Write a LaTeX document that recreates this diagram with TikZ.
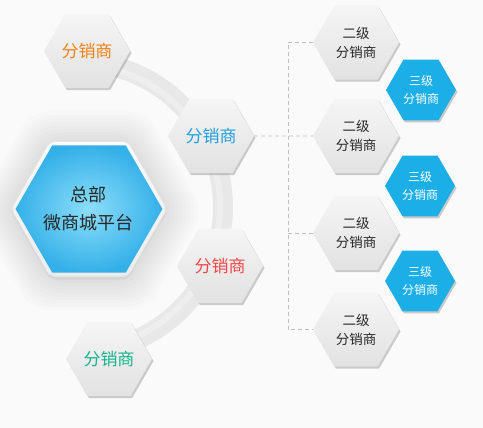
\documentclass[tikz,border=0pt]{standalone}
\usepackage{fontspec}
\newfontfamily\cjk{Noto Sans CJK SC}
\usetikzlibrary{shapes.geometric,shadows}
\definecolor{bg}{RGB}{250,250,250}
\definecolor{hextop}{RGB}{245,245,245}
\definecolor{hexbot}{RGB}{226,226,226}
\definecolor{arcgray}{RGB}{232,232,232}
\definecolor{mainlight}{RGB}{140,222,250}
\definecolor{maindark}{RGB}{52,176,232}
\definecolor{thirdblue}{RGB}{28,174,230}
\definecolor{txtorange}{RGB}{240,130,20}
\definecolor{txtblue}{RGB}{30,160,225}
\definecolor{txtred}{RGB}{240,70,70}
\definecolor{txtgreen}{RGB}{20,180,140}
\definecolor{txtdark}{RGB}{40,40,40}
\definecolor{dashgray}{RGB}{190,190,190}
\definecolor{frametop}{RGB}{252,252,252}
\definecolor{framebot}{RGB}{236,236,236}
\tikzset{
  hexbase/.style={regular polygon, regular polygon sides=6, inner sep=0pt, outer sep=0pt, align=center},
  hexshadow/.style={drop shadow={opacity=0.35, shadow xshift=1.5pt, shadow yshift=-2pt, fill=black!55}},
  lvlone/.style={hexbase, hexshadow, minimum size=86pt, top color=hextop, bottom color=hexbot, font=\cjk\fontsize{17}{20}\selectfont},
  lvltwo/.style={hexbase, hexshadow, minimum size=86pt, top color=hextop, bottom color=hexbot, text=txtdark, font=\cjk\fontsize{13.5}{19}\selectfont},
  lvlthree/.style={hexbase, hexshadow, minimum size=70pt, fill=thirdblue, text=white, font=\cjk\fontsize{12}{18}\selectfont},
  dashline/.style={draw=dashgray, dash pattern=on 4pt off 3pt, line width=0.7pt},
}
\begin{document}
\begin{tikzpicture}[x=1pt,y=-1pt]
\useasboundingbox (0,0) rectangle (483,428);
\fill[bg] (0,0) rectangle (483,428);
% soft glow around main
\foreach \s in {230,222,...,166}{
  \node[hexbase, minimum size=\s pt, fill=black, opacity=0.012, rounded corners=18pt] at (89,211) {};
}
% arc band
\draw[arcgray, line width=20pt] (78,207) ++(-88:145) arc[start angle=-88, end angle=80, radius=145];
\draw[white, opacity=0.3, line width=6pt] (78,207) ++(-88:142) arc[start angle=-88, end angle=80, radius=142];
% main
\node[hexbase, minimum size=156pt, top color=frametop, bottom color=framebot, draw=black!10, line width=0.8pt, rounded corners=6pt, drop shadow={opacity=0.10, shadow xshift=0pt, shadow yshift=-3pt}] (mainframe) at (89,209) {};
\node[hexbase, minimum size=140pt, inner color=mainlight, outer color=maindark, text=txtdark, font=\cjk\fontsize{18}{28}\selectfont] (main) at (89,209) {总部\\微商城平台};
% first level
\node[lvlone, text=txtorange] (o) at (87,51) {分销商};
\node[lvlone, text=txtblue] (b) at (211,136) {分销商};
\node[lvlone, text=txtred] (r) at (220,266) {分销商};
\node[lvlone, text=txtgreen] (g) at (109,359) {分销商};
% second level
\node[lvltwo] (s1) at (356,42.5) {二级\\分销商};
\node[lvltwo] (s2) at (356,136) {二级\\分销商};
\node[lvltwo] (s3) at (356,233) {二级\\分销商};
\node[lvltwo] (s4) at (356,329.5) {二级\\分销商};
% connectors
\coordinate (bus) at (288,0);
\draw[dashline] (b.east) -- (s2.west);
\draw[dashline] (s1.west) -- (bus |- s1.west) -- (bus |- s4.west) -- (s4.west);
\draw[dashline] (bus |- s3.west) -- (s3.west);
% third level
\node[lvlthree] (t1) at (421,90) {三级\\分销商};
\node[lvlthree] (t2) at (420,186) {三级\\分销商};
\node[lvlthree] (t3) at (420,281) {三级\\分销商};
\end{tikzpicture}
\end{document}
